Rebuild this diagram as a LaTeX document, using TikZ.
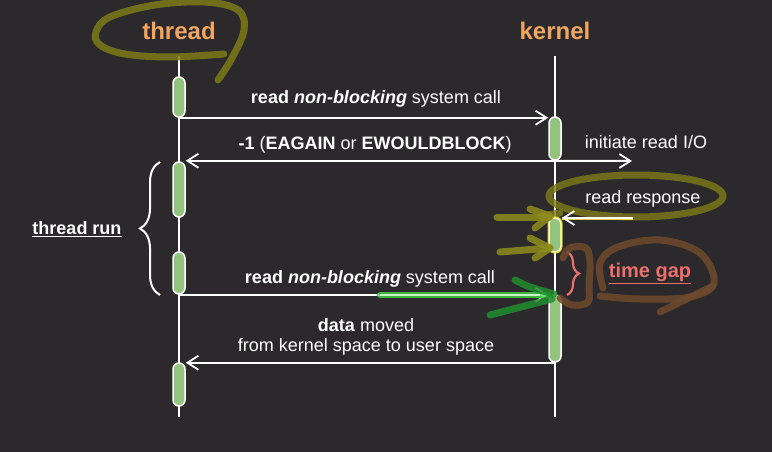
\documentclass[tikz,border=0pt]{standalone}
\usepackage{fontspec}
\setmainfont{Liberation Sans}
\usetikzlibrary{arrows.meta,decorations.pathreplacing,calc}
\definecolor{bgc}{HTML}{2B292C}
\definecolor{bargreen}{HTML}{93C47D}
\definecolor{titleor}{HTML}{F0A560}
\definecolor{salmon}{HTML}{E9706B}
\definecolor{olive}{HTML}{7E7B17}
\definecolor{yelarrow}{HTML}{8F8C1C}
\definecolor{brownmark}{HTML}{6E4A2C}
\definecolor{darkgr}{HTML}{1F8D2C}
\definecolor{brightgr}{HTML}{45D845}
\begin{document}
\begin{tikzpicture}[x=1pt,y=-1pt,
  title/.style={text=titleor,font=\fontsize{24}{28}\selectfont\bfseries},
  lbl/.style={text=white,font=\fontsize{18}{22}\selectfont,inner sep=0pt},
  life/.style={draw=white,line width=2pt},
  bar/.style={rectangle,rounded corners=6pt,minimum width=12pt,inner sep=0pt,
              draw=white,fill=bargreen,line width=1.5pt},
  msg/.style={draw=white,line width=2pt,-{Straight Barb[length=11pt,width=14pt,line width=1.8pt]}},
  marker/.style={line width=7pt,line cap=round,line join=round,opacity=0.85},
  ]
\fill[bgc] (0,0) rectangle (772,452);
\useasboundingbox (0,0) rectangle (772,452);

% titles
\node[title] (thr) at (179,31) {thread};
\node[title] (ker) at (555,31) {kernel};

% lifelines
\coordinate (tt) at (179,56); \coordinate (tbot) at (179,417);
\coordinate (kt) at (555,56); \coordinate (kbot) at (555,417);
\draw[life] (tt) -- (tbot);
\draw[life] (kt) -- (kbot);

% activation bars
\node[bar,minimum height=40pt] (tb1) at (179,97) {};
\node[bar,minimum height=55pt] (tb2) at (179,189.5) {};
\node[bar,minimum height=42pt] (tb3) at (179,273) {};
\node[bar,minimum height=43pt] (tb4) at (179,384.5) {};
\node[bar,minimum height=43pt] (kb1) at (555,138.5) {};
\node[bar,minimum height=34pt] (kb2) at (555,235) {};
\node[bar,minimum height=67pt] (kb3) at (555,328.5) {};

% messages
\draw[msg] (tb1.south) -- (tb1.south -| kb1.west);
\node[lbl] (m1) at (376,99) {\textbf{read \textit{non-blocking}} system call};

\draw[msg] (kb1.south) -- (kb1.south -| tb2.east);
\node[lbl] (m2) at (375,145) {\textbf{-1} (\textbf{EAGAIN} or \textbf{EWOULDBLOCK})};

\coordinate (io) at (632,161);
\draw[msg] (kb1.south) -- (io);
\node[lbl] (m3) at (646,142) {initiate read I/O};

\coordinate (rr) at (633,218);
\node[lbl] (m4) at (643,199) {read response};

\draw[msg] (tb3.south) -- (tb3.south -| kb3.west);
\node[lbl] (m5) at (370,279) {\textbf{read \textit{non-blocking}} system call};

\draw[msg] (kb3.south) -- (kb3.south -| tb4.east);
\node[lbl] (m6) at (366,325) {\textbf{data} moved};
\node[lbl] (m7) at (366,347) {from kernel space to user space};

% thread run brace
\draw[draw=white,line width=2pt,decorate,decoration={brace,amplitude=20pt}]
  (160,295) -- (160,162);
\node[lbl,font=\fontsize{18}{22}\selectfont\bfseries] (trun) at (77,229) {\underline{thread run}};

% time gap brace
\draw[draw=salmon,line width=2.2pt,decorate,decoration={brace,amplitude=12pt}]
  (567,252) -- (567,295);
\node[lbl,text=salmon,font=\fontsize{20}{24}\selectfont\bfseries] (tgap) at (650,273) {\underline{time gap}};

% ---- hand-drawn annotations ----
% olive ellipse around "thread"
\draw[marker,olive] plot[smooth,tension=0.6] coordinates {(224,54) (170,57) (125,54) (100,45) (96,32) (110,17) (155,5) (205,2) (238,10) (244,30) (232,58) (218,80)};
% olive ellipse around "read response"
\draw[marker,olive,opacity=0.8] (636,196) ellipse [x radius=87pt,y radius=21pt];
\draw[marker,olive,opacity=0.8] (560,213) -- (541,216);
% yellow highlight on read response arrow and bar
\draw[line width=3pt,yellow!70!white,opacity=0.8] (rr) -- (rr -| kb2.east);
\draw[msg] (rr) -- (rr -| kb2.east);
\draw[yellow!80!white,line width=1.5pt,rounded corners=6pt,opacity=0.8] (kb2.north west) rectangle (kb2.south east);
% yellow arrows
\draw[marker,yelarrow] (497,217) -- (550,217);
\draw[marker,yelarrow] (530,209) -- (550,216) -- (535,228);
\draw[marker,yelarrow] (500,252) -- (550,248);
\draw[marker,yelarrow] (530,238) -- (550,248) -- (535,258);
% green highlight on second call
\draw[line width=6pt,brightgr,opacity=0.8,line cap=round] (380,295) -- (548,295);
\draw[line width=1.2pt,white!70!brightgr] (380,295) -- (540,295);
\draw[marker,darkgr] plot[smooth] coordinates {(515,280) (530,287) (554,294)};
\draw[marker,darkgr] (490,315) -- (552,299);
% brown scribbles around time gap
\draw[marker,brownmark] plot[smooth,tension=0.6] coordinates {(563,258) (570,248) (586,248) (590,263) (589,285) (588,302) (572,305) (560,298)};
\draw[marker,brownmark] plot[smooth,tension=0.6] coordinates {(603,288) (600,263) (618,247) (660,240) (700,253) (714,283) (690,297) (640,299) (600,296)};
\draw[marker,brownmark] (713,286) -- (660,312);
\end{tikzpicture}
\end{document}
